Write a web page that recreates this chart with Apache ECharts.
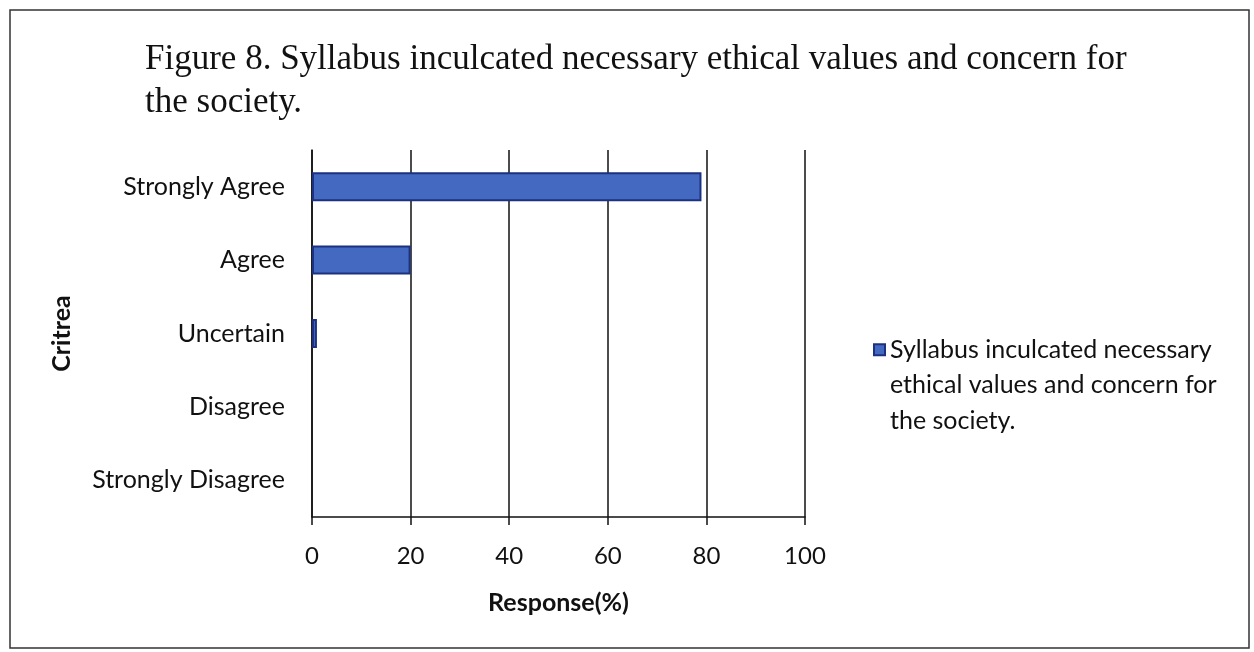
<!DOCTYPE html>
<html>
<head>
<meta charset="utf-8">
<script src="https://cdn.jsdelivr.net/npm/echarts@6/dist/echarts.min.js"></script>
<style>
html, body { margin: 0; padding: 0; background: #fff; }
#chart { width: 1254px; height: 652px; }
</style>
</head>
<body>
<div id="chart"></div>
<script>
// categories, top to bottom
var categories = ['Strongly Agree', 'Agree', 'Uncertain', 'Disagree', 'Strongly Disagree'];
var responses = [79, 20, 1, 0, 0]; // Response(%)
var seriesName = 'Syllabus inculcated necessary ethical values and concern for the society.';
var xTicks = [0, 20, 40, 60, 80, 100];

var chart = echarts.init(document.getElementById('chart'));

var option = {
    animation: false,
    backgroundColor: '#fff',
    title: {
        text: 'Figure 8. Syllabus inculcated necessary ethical values and concern for\nthe society.',
        left: 140,
        top: 33,
        textStyle: {
            fontFamily: 'Liberation Serif',
            fontWeight: 'normal',
            fontSize: 35,
            lineHeight: 43,
            color: '#111'
        }
    },
    graphic: [
        {
            type: 'rect',
            shape: { x: 10, y: 10, width: 1239, height: 638 },
            style: { fill: 'none', stroke: '#333', lineWidth: 1.5 }
        }
    ],
    legend: {
        data: [seriesName],
        orient: 'vertical',
        left: 868,
        top: 256,
        icon: 'rect',
        itemWidth: 11,
        itemHeight: 11,
        // two empty lines on top keep the marker level with the first line
        formatter: function () {
            return '\n\nSyllabus inculcated necessary\nethical values and concern for\nthe society.';
        },
        textStyle: {
            fontFamily: 'Lato',
            fontSize: 25,
            lineHeight: 35.5,
            color: '#111'
        }
    },
    grid: {
        left: 312,
        right: 449,
        top: 150,
        bottom: 135
    },
    xAxis: {
        type: 'value',
        min: 0,
        max: 100,
        interval: 20,
        name: 'Response(%)',
        nameLocation: 'middle',
        nameGap: 73,
        nameTextStyle: {
            fontFamily: 'Lato',
            fontWeight: 'bold',
            fontSize: 25,
            color: '#111'
        },
        axisLine: { show: true, lineStyle: { color: '#111', width: 1.5 } },
        axisTick: { show: true, length: 8, lineStyle: { color: '#111', width: 1.5 } },
        axisLabel: {
            margin: 27,
            fontFamily: 'Lato',
            fontSize: 24,
            color: '#111',
            formatter: function (v) { return xTicks.indexOf(v) >= 0 ? String(v) : ''; }
        },
        splitLine: { show: true, lineStyle: { color: '#111', width: 1.5 } }
    },
    yAxis: {
        type: 'category',
        inverse: true,
        data: categories,
        name: 'Critrea',
        nameLocation: 'middle',
        nameGap: 238,
        nameRotate: 90,
        nameTextStyle: {
            fontFamily: 'Lato',
            fontWeight: 'bold',
            fontSize: 25,
            color: '#111'
        },
        axisLine: { show: true, lineStyle: { color: '#111', width: 1.5 } },
        axisTick: { show: false },
        axisLabel: {
            margin: 27,
            fontFamily: 'Lato',
            fontSize: 25,
            color: '#111'
        }
    },
    series: [
        {
            name: seriesName,
            type: 'bar',
            // zero bars drawn without outline
            data: responses.map(function (v) {
                return v === 0 ? { value: v, itemStyle: { borderWidth: 0 } } : v;
            }),
            barWidth: 29,
            itemStyle: {
                color: '#4369c0',
                borderColor: '#1c3280',
                borderWidth: 2
            }
        }
    ]
};

chart.setOption(option);
</script>
</body>
</html>
